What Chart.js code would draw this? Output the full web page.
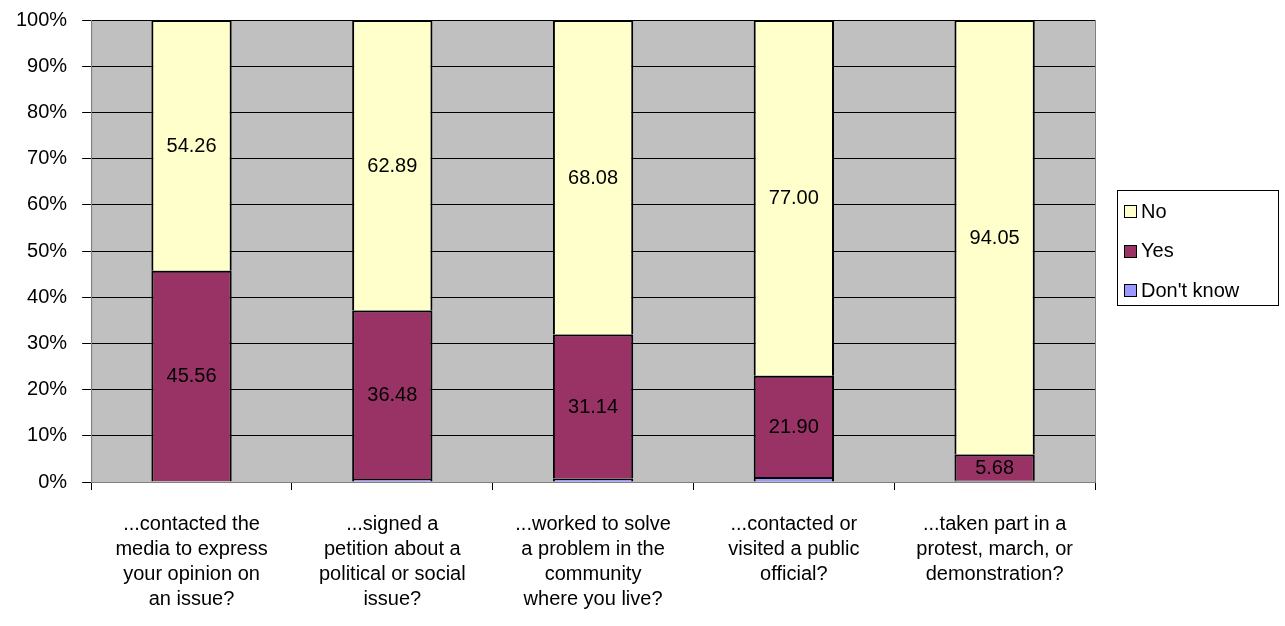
<!DOCTYPE html>
<html>
<head>
<meta charset="utf-8">
<script src="https://cdn.jsdelivr.net/npm/chart.js@4.4.1/dist/chart.umd.min.js"></script>
<style>
  body { margin: 0; background: #fff; }
  #wrap { width: 1285px; height: 626px; }
</style>
</head>
<body>
<div id="wrap"><canvas id="surveyChart" width="1285" height="626"></canvas></div>
<script>
// categories (x axis, one array per label line)
const categories = [
  ['...contacted the', 'media to express', 'your opinion on', 'an issue?'],
  ['...signed a', 'petition about a', 'political or social', 'issue?'],
  ['...worked to solve', 'a problem in the', 'community', 'where you live?'],
  ['...contacted or', 'visited a public', 'official?'],
  ['...taken part in a', 'protest, march, or', 'demonstration?']
];

// series values (percent)
const dontKnowValues = [0.18, 0.63, 0.78, 1.10, 0.27];
const yesValues = [45.56, 36.48, 31.14, 21.90, 5.68];
const noValues = [54.26, 62.89, 68.08, 77.00, 94.05];

// y tick labels
const yTicks = [0, 10, 20, 30, 40, 50, 60, 70, 80, 90, 100];

const FONT = "'Liberation Sans', Arial, sans-serif";

// grey plot area background
const plotBackground = {
  id: 'plotBackground',
  beforeDraw(chart) {
    const { ctx, chartArea } = chart;
    ctx.save();
    ctx.fillStyle = '#C0C0C0';
    ctx.fillRect(chartArea.left, chartArea.top, chartArea.right - chartArea.left, chartArea.bottom - chartArea.top);
    ctx.strokeStyle = '#808080';
    ctx.lineWidth = 1;
    ctx.strokeRect(chartArea.left + 0.5, chartArea.top + 0.5, chartArea.right - chartArea.left, chartArea.bottom - chartArea.top);
    ctx.restore();
  }
};

// value labels inside Yes and No segments
const segmentLabels = {
  id: 'segmentLabels',
  afterDatasetsDraw(chart) {
    const { ctx } = chart;
    ctx.save();
    ctx.font = '20px ' + FONT;
    ctx.fillStyle = '#000';
    ctx.textAlign = 'center';
    ctx.textBaseline = 'middle';
    chart.data.datasets.forEach((ds, i) => {
      if (!ds.showValues) return;
      chart.getDatasetMeta(i).data.forEach((bar, j) => {
        const mid = (bar.y + bar.base) / 2;
        ctx.fillText(ds.data[j].toFixed(2), bar.x, mid + 1);
      });
    });
    ctx.restore();
  }
};

// boxed legend at the right, top series first
const boxedLegend = {
  id: 'boxedLegend',
  afterDraw(chart) {
    const { ctx, chartArea } = chart;
    const boxW = 161, boxH = 115;
    const left = Math.round(chartArea.right + 22);
    const top = Math.round((chartArea.top + chartArea.bottom) / 2 - 61);
    ctx.save();
    ctx.fillStyle = '#fff';
    ctx.fillRect(left, top, boxW, boxH);
    ctx.strokeStyle = '#000';
    ctx.lineWidth = 1;
    ctx.strokeRect(left + 0.5, top + 0.5, boxW, boxH);
    ctx.font = '20px ' + FONT;
    ctx.textBaseline = 'middle';
    const items = chart.data.datasets.slice().reverse();
    items.forEach((ds, k) => {
      const cy = top + 21 + k * 39.5;
      ctx.fillStyle = ds.backgroundColor;
      ctx.fillRect(left + 7, Math.round(cy - 6), 12, 12);
      ctx.strokeStyle = '#000';
      ctx.strokeRect(left + 7.5, Math.round(cy - 6) + 0.5, 12, 12);
      ctx.fillStyle = '#000';
      ctx.fillText(ds.label, left + 24, cy + 1);
    });
    ctx.restore();
  }
};

const ctx = document.getElementById('surveyChart').getContext('2d');
const surveyChart = new Chart(ctx, {
  type: 'bar',
  data: {
    labels: categories,
    datasets: [
      {
        label: "Don't know",
        data: dontKnowValues,
        backgroundColor: '#9999FF',
        borderColor: '#000',
        borderWidth: 2,
        showValues: false
      },
      {
        label: 'Yes',
        data: yesValues,
        backgroundColor: '#993366',
        borderColor: '#000',
        borderWidth: 2,
        showValues: true
      },
      {
        label: 'No',
        data: noValues,
        backgroundColor: '#FFFFCC',
        borderColor: '#000',
        borderWidth: 2,
        showValues: true
      }
    ]
  },
  options: {
    responsive: false,
    animation: false,
    layout: { padding: { top: 20, left: 1, right: 190, bottom: -8 } },
    datasets: {
      bar: { categoryPercentage: 1, barPercentage: 0.4 }
    },
    scales: {
      x: {
        stacked: true,
        offset: true,
        grid: {
          offset: true,
          drawOnChartArea: false,
          color: '#000',
          tickLength: 8
        },
        border: { color: '#808080' },
        ticks: {
          color: '#000',
          font: { size: 20, family: FONT, lineHeight: 1.25 },
          maxRotation: 0,
          autoSkip: false,
          padding: 22
        }
      },
      y: {
        stacked: true,
        min: 0,
        max: 100,
        afterBuildTicks(axis) {
          axis.ticks = yTicks.map(v => ({ value: v }));
        },
        afterFit(scale) {
          scale.paddingTop = 0;
          scale.paddingBottom = 0;
        },
        grid: {
          color: '#000',
          tickLength: 9
        },
        border: { color: '#808080' },
        ticks: {
          color: '#000',
          font: { size: 20, family: FONT },
          padding: 15,
          callback: v => v + '%'
        }
      }
    },
    plugins: {
      legend: { display: false },
      tooltip: { enabled: false }
    }
  },
  plugins: [plotBackground, segmentLabels, boxedLegend]
});
</script>
</body>
</html>
